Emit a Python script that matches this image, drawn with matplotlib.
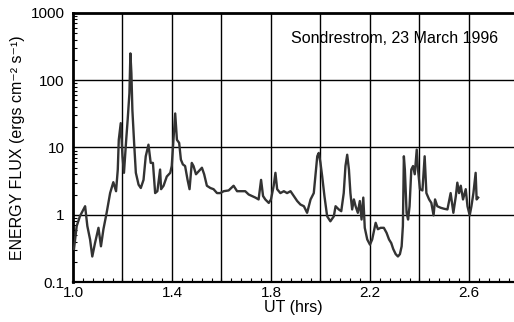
import numpy as np
import matplotlib
matplotlib.use("Agg")
import matplotlib.pyplot as plt
from matplotlib.ticker import FixedLocator, LogLocator, NullFormatter, MultipleLocator

plt.rcParams['font.family'] = ['Liberation Sans', 'DejaVu Sans']

# energy flux time series (UT hours, ergs cm^-2 s^-1)
ut_hrs = [
    1.004, 1.015, 1.028, 1.042, 1.049, 1.058, 1.069, 1.078, 1.089, 1.103,
    1.113, 1.123, 1.136, 1.150, 1.163, 1.174, 1.181, 1.185, 1.193, 1.200,
    1.206, 1.215, 1.221, 1.228, 1.232, 1.236, 1.240, 1.247, 1.254, 1.265,
    1.274, 1.285, 1.294, 1.305, 1.314, 1.323, 1.332, 1.341, 1.352, 1.356,
    1.366, 1.379, 1.393, 1.399, 1.406, 1.413, 1.420, 1.429, 1.436, 1.444,
    1.453, 1.463, 1.471, 1.480, 1.487, 1.497, 1.507, 1.521, 1.530, 1.541,
    1.555, 1.568, 1.582, 1.595, 1.609, 1.629, 1.649, 1.663, 1.676, 1.696,
    1.710, 1.723, 1.737, 1.750, 1.760, 1.768, 1.777, 1.791, 1.800, 1.811,
    1.818, 1.825, 1.838, 1.852, 1.865, 1.879, 1.892, 1.906, 1.919, 1.933,
    1.946, 1.960, 1.973, 1.987, 1.993, 2.000, 2.007, 2.016, 2.027, 2.040,
    2.054, 2.061, 2.074, 2.084, 2.094, 2.101, 2.108, 2.115, 2.121, 2.128,
    2.135, 2.142, 2.151, 2.159, 2.166, 2.173, 2.179, 2.189, 2.200, 2.209,
    2.223, 2.232, 2.243, 2.256, 2.267, 2.277, 2.286, 2.294, 2.304, 2.313,
    2.321, 2.328, 2.333, 2.337, 2.341, 2.348, 2.354, 2.360, 2.367, 2.374,
    2.381, 2.389, 2.394, 2.402, 2.412, 2.421, 2.428, 2.439, 2.448, 2.457,
    2.463, 2.472, 2.486, 2.499, 2.513, 2.526, 2.537, 2.547, 2.553, 2.560,
    2.567, 2.576, 2.587, 2.594, 2.603, 2.610, 2.618, 2.627, 2.631, 2.637,
]
energy_flux = [
    0.31, 0.68, 0.95, 1.2, 1.34, 0.68, 0.43, 0.24, 0.38, 0.64,
    0.34, 0.61, 1.07, 2.1, 3.05, 2.24, 4.7, 13, 23, 7.4,
    4.2, 13, 26, 64, 250, 127, 36, 11.7, 4.2, 2.8,
    2.5, 3.3, 7.4, 11, 5.9, 5.9, 2.1, 2.24, 4.7, 2.4,
    2.7, 3.7, 4.2, 5.3, 13, 32, 13, 11.7, 6.6, 5.6,
    5.3, 3.3, 2.4, 5.9, 5.3, 4.0, 4.4, 5.0, 4.0, 2.7,
    2.5, 2.4, 2.1, 2.1, 2.24, 2.3, 2.7, 2.24, 2.24, 2.24,
    2.0, 1.9, 1.8, 1.69, 3.3, 1.9, 1.69, 1.5, 1.69, 2.7,
    4.2, 2.4, 2.1, 2.24, 2.1, 2.24, 1.9, 1.6, 1.42, 1.34,
    1.07, 1.69, 2.1, 7.4, 8.3, 5.9, 3.7, 1.9, 0.95, 0.8,
    0.95, 1.34, 1.2, 1.13, 2.1, 5.3, 7.8, 4.7, 2.1, 1.2,
    1.69, 1.34, 1.07, 1.6, 0.85, 1.8, 0.64, 0.43, 0.36, 0.43,
    0.76, 0.61, 0.64, 0.64, 0.54, 0.43, 0.38, 0.31, 0.26, 0.24,
    0.26, 0.34, 0.68, 7.4, 4.7, 1.07, 0.85, 1.34, 4.7, 5.3,
    4.0, 9.3, 4.7, 2.4, 2.3, 7.4, 2.1, 1.69, 1.5, 0.98,
    1.69, 1.34, 1.27, 1.23, 1.2, 2.1, 1.07, 1.9, 3.0, 2.1,
    2.7, 1.69, 2.4, 1.34, 0.98, 1.34, 2.1, 4.2, 1.69, 1.8,
]

fig = plt.figure(figsize=(5.14, 3.22), dpi=100)
ax = fig.add_axes([0.142, 0.124, 0.858, 0.836])

ax.plot(ut_hrs, energy_flux, color='#333333', lw=1.7, zorder=3)

ax.set_yscale('log')
ax.set_xlim(1.0, 2.782)
ax.set_ylim(0.1, 1000)

# grid every 0.2 hr and every decade, labels only every 0.4 hr
ax.xaxis.set_major_locator(FixedLocator([1.0, 1.4, 1.8, 2.2, 2.6]))
ax.xaxis.set_minor_locator(MultipleLocator(0.04))
for xg in [1.2, 1.4, 1.6, 1.8, 2.0, 2.2, 2.4, 2.6]:
    ax.axvline(xg, color='black', lw=1.0, zorder=1)
for yg in [1, 10, 100]:
    ax.axhline(yg, color='black', lw=1.0, zorder=1)

ax.yaxis.set_major_locator(FixedLocator([0.1, 1, 10, 100, 1000]))
ax.set_yticklabels(['0.1', '1', '10', '100', '1000'])
ax.yaxis.set_minor_locator(LogLocator(base=10, subs=np.arange(2, 10)))
ax.yaxis.set_minor_formatter(NullFormatter())
ax.set_xticklabels(['1.0', '1.4', '1.8', '2.2', '2.6'])

ax.tick_params(axis='both', which='major', direction='in', length=0,
               labelsize=11, colors='black')
ax.tick_params(axis='y', which='major', pad=6)
ax.tick_params(axis='x', which='major', pad=3)
ax.tick_params(axis='both', which='minor', direction='in', length=3, width=0.8)

ax.spines['right'].set_visible(False)
ax.spines['left'].set_linewidth(2.0)
ax.spines['top'].set_linewidth(2.0)
ax.spines['bottom'].set_linewidth(1.6)

ax.set_xlabel('UT (hrs)', fontsize=11.5, labelpad=0)
ax.set_ylabel('ENERGY FLUX (ergs cm⁻² s⁻¹)', fontsize=11.5, labelpad=4)

ax.text(0.965, 0.905, 'Sondrestrom, 23 March 1996', transform=ax.transAxes,
        ha='right', va='center', fontsize=11.5)

fig.savefig('out.png', dpi=100)
